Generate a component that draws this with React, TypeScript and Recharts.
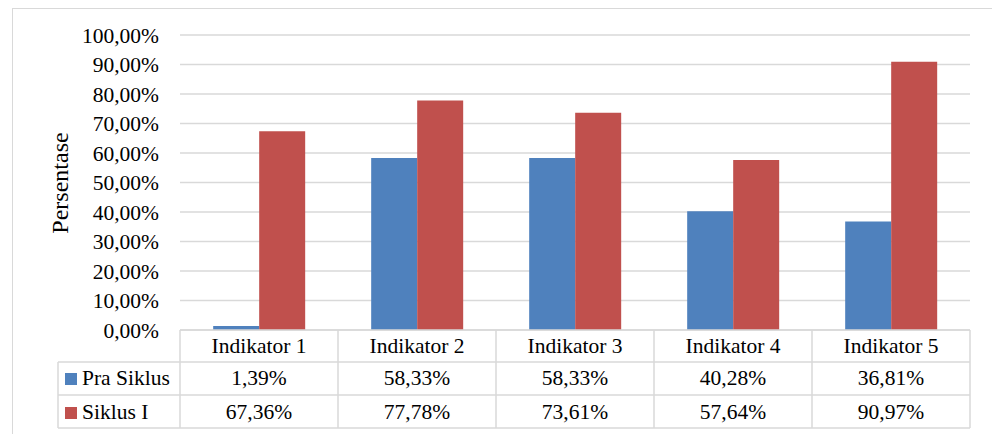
import { BarChart, Bar, XAxis, YAxis, CartesianGrid } from "recharts";

const categories = ["Indikator 1", "Indikator 2", "Indikator 3", "Indikator 4", "Indikator 5"];
const praSiklus = [1.39, 58.33, 58.33, 40.28, 36.81];
const siklusI = [67.36, 77.78, 73.61, 57.64, 90.97];
const yTicks = [0, 10, 20, 30, 40, 50, 60, 70, 80, 90, 100];

const seriesInfo = [
  { key: "pra", name: "Pra Siklus", color: "#4F81BD", values: praSiklus },
  { key: "siklus", name: "Siklus I", color: "#C0504D", values: siklusI },
];

const data = categories.map((c, i) => ({
  name: c,
  pra: praSiklus[i],
  siklus: siklusI[i],
}));

const FONT = "Liberation Serif, Times New Roman, serif";
const GRID = "#D9D9D9";
const W = 992;
const H = 434;
const PLOT_LEFT = 180;
const PLOT_RIGHT = 970;
const COL_W = (PLOT_RIGHT - PLOT_LEFT) / categories.length;
const TABLE_LEFT = 58;
const ROW_LINES = [362, 395, 428];
const ROW_BASELINES = [385, 419];
const txt = { fontFamily: FONT, fontSize: 21.5, fill: "#000" };

const fmt = (v: number) => v.toFixed(2).replace(".", ",") + "%";

const TableTick = (props: any) => {
  const { x, y, payload, index } = props;
  const left = x - COL_W / 2;
  const right = x + COL_W / 2;
  const bottom = ROW_LINES[ROW_LINES.length - 1];
  return (
    <g>
      {ROW_LINES.map((ly) => (
        <line key={ly} x1={left} x2={right} y1={ly} y2={ly} stroke={GRID} strokeWidth={1.5} />
      ))}
      <line x1={right} x2={right} y1={y} y2={bottom} stroke={GRID} strokeWidth={1.5} />
      <text x={x} y={353} textAnchor="middle" style={txt}>
        {payload.value}
      </text>
      {seriesInfo.map((s, si) => (
        <text key={s.key} x={x} y={ROW_BASELINES[si]} textAnchor="middle" style={txt}>
          {fmt(s.values[index])}
        </text>
      ))}
      {index === 0 && (
        <g>
          <line x1={left} x2={left} y1={y} y2={bottom} stroke={GRID} strokeWidth={1.5} />
          <line x1={TABLE_LEFT} x2={TABLE_LEFT} y1={ROW_LINES[0]} y2={bottom} stroke={GRID} strokeWidth={1.5} />
          {ROW_LINES.map((ly) => (
            <line key={ly} x1={TABLE_LEFT} x2={left} y1={ly} y2={ly} stroke={GRID} strokeWidth={1.5} />
          ))}
          {seriesInfo.map((s, si) => (
            <g key={s.key}>
              <rect x={65} y={ROW_BASELINES[si] - 12} width={12} height={12} fill={s.color} />
              <text x={82} y={ROW_BASELINES[si]} style={txt}>
                {s.name}
              </text>
            </g>
          ))}
        </g>
      )}
    </g>
  );
};

const YLabel = () => (
  <text
    x={68}
    y={183}
    transform="rotate(-90 68 183)"
    textAnchor="middle"
    style={{ ...txt, fontSize: 24 }}
  >
    Persentase
  </text>
);

export default function App() {
  return (
    <div
      style={{
        position: "absolute",
        left: 0,
        top: 0,
        width: W,
        height: H,
        background: "#fff",
        fontFamily: FONT,
      }}
    >
      <div
        style={{
          position: "absolute",
          left: 12,
          top: 8,
          width: W,
          height: H,
          borderLeft: `1.5px solid ${GRID}`,
          borderTop: `1.5px solid ${GRID}`,
        }}
      />
      <div style={{ position: "absolute", left: 0, top: 0 }}>
        <BarChart
          width={W}
          height={H}
          data={data}
          margin={{ top: 35, right: W - PLOT_RIGHT, bottom: 0, left: 0 }}
          barCategoryGap="21%"
          barGap={0}
          style={{ fontFamily: FONT }}
        >
          <CartesianGrid vertical={false} stroke={GRID} strokeWidth={1.5} />
          <YAxis
            width={PLOT_LEFT}
            domain={[0, 100]}
            ticks={yTicks}
            interval={0}
            tickFormatter={fmt}
            axisLine={false}
            tickLine={false}
            tickSize={0}
            tickMargin={21}
            tick={{ style: txt, fill: "#000" }}
            label={<YLabel />}
          />
          <XAxis
            dataKey="name"
            height={104}
            interval={0}
            axisLine={{ stroke: GRID, strokeWidth: 1.5 }}
            tickLine={false}
            tickSize={0}
            tickMargin={0}
            tick={<TableTick />}
          />
          {seriesInfo.map((s) => (
            <Bar key={s.key} dataKey={s.key} name={s.name} fill={s.color} isAnimationActive={false} />
          ))}
        </BarChart>
      </div>
    </div>
  );
}
